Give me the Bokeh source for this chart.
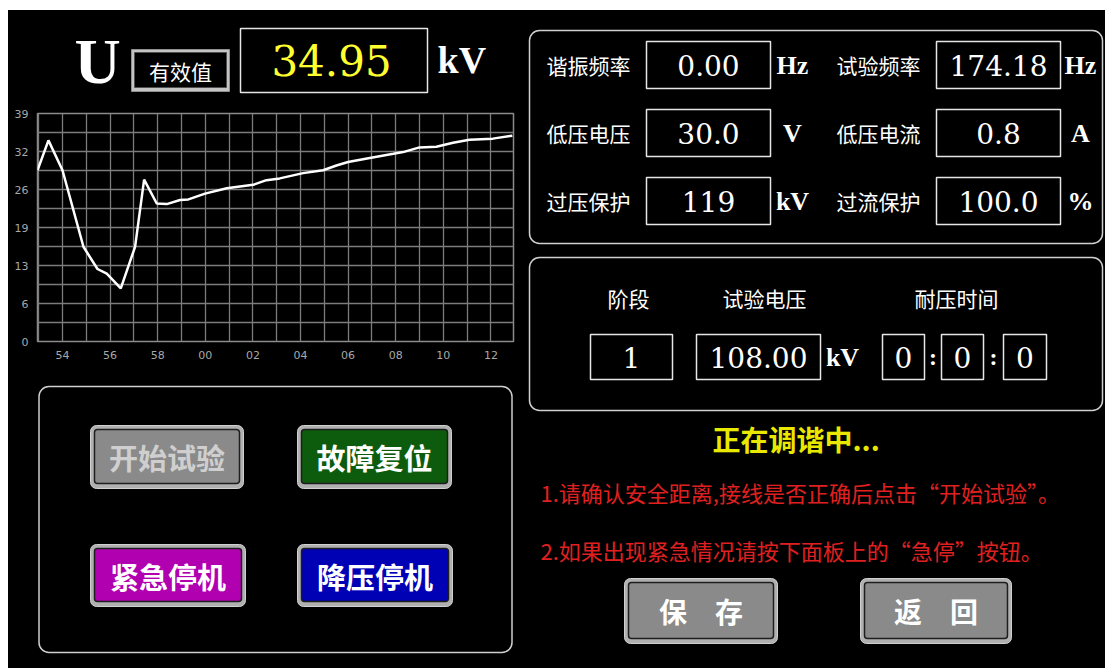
from bokeh.plotting import figure
from bokeh.models import Range1d, FixedTicker, Spacer
from bokeh.layouts import row, column
from bokeh.embed import file_html
from bokeh.resources import INLINE
from bokeh.core.properties import value

# ---------------- data ----------------
# trend of U (kV) over time, x in minutes (60 = hh:00)
minutes = [52.95, 53.41, 54.0, 54.88, 55.47, 55.86, 56.45, 57.05, 57.43, 57.96,
           58.38, 58.94, 59.29, 59.99, 60.9, 62.01, 62.57, 63.13, 64.11, 64.95,
           65.51, 66.0, 66.91, 67.9, 68.31, 69.0, 69.71, 70.41, 71.1, 72.08, 72.9]
voltage_kv = [29.3, 34.4, 29.3, 16.2, 12.4, 11.6, 9.1, 16.2, 27.7, 23.6,
              23.5, 24.2, 24.3, 25.3, 26.2, 26.8, 27.6, 27.9, 28.8, 29.3,
              30.1, 30.7, 31.4, 32.1, 32.4, 33.2, 33.3, 34.0, 34.5, 34.7, 35.2]
x_tick_minutes = [54, 56, 58, 60, 62, 64, 66, 68, 70, 72]
x_tick_labels = ["54", "56", "58", "00", "02", "04", "06", "08", "10", "12"]
y_ticks = [0, 6.5, 13, 19.5, 26, 32.5, 39]
y_tick_labels = ["0", "6", "13", "19", "26", "32", "39"]

quantity = "U"
mode_label = "有效值"
reading = "34.95"
reading_unit = "kV"

param_labels = ["谐振频率", "试验频率", "低压电压", "低压电流", "过压保护", "过流保护"]
param_values = ["0.00", "174.18", "30.0", "0.8", "119", "100.0"]
param_units = ["Hz", "Hz", "V", "A", "kV", "%"]

stage_headers = ["阶段", "试验电压", "耐压时间"]
stage_no = "1"
test_voltage = "108.00"
test_voltage_unit = "kV"
hold_time = ["0", "0", "0"]

status_text = "正在调谐中..."
notes = ["1.请确认安全距离,接线是否正确后点击“开始试验”。",
         "2.如果出现紧急情况请按下面板上的“急停”按钮。"]
left_buttons = ["开始试验", "故障复位", "紧急停机", "降压停机"]
bottom_buttons = ["保　存", "返　回"]

CJK = "Noto Sans CJK SC"
NUM = "DejaVu Serif"
UNIT = "Liberation Serif"

# left column: image x 8..523, frame of all left figures 37..513
LB, RB = 29, 10


def px_fig(x0, x1, y0, y1, width, height, left=0, right=0):
    p = figure(width=width, height=height, x_range=Range1d(x0, x1), y_range=Range1d(y1, y0),
               output_backend="svg", toolbar_location=None, min_border=0,
               min_border_left=left, min_border_right=right,
               x_axis_type=None, y_axis_type=None,
               background_fill_color="black", border_fill_color="black",
               outline_line_color=None)
    p.grid.visible = False
    return p


def label(p, x, y, txt, size, color="white", font=CJK, style="normal",
          align="center", baseline="middle"):
    p.text(x=[x], y=[y], text=[txt], text_font=value(font), text_font_size=size,
           text_color=color, text_font_style=style, text_align=align,
           text_baseline=baseline)


def box(p, x0, y0, x1, y1, line="#e6e6e6", lw=1.5, r=0, fill=None):
    p.quad(left=[x0], right=[x1], top=[y0], bottom=[y1], fill_color=fill,
           fill_alpha=1.0 if fill else 0.0, line_color=line, line_width=lw,
           border_radius=r)


def button(p, x0, y0, x1, y1, fill, txt, tcolor="white", size="28px"):
    p.quad(left=[x0], right=[x1], top=[y0], bottom=[y1], fill_color="#b0b0b0",
           line_color="#d0d0d0", line_width=1, border_radius=6)
    p.quad(left=[x0 + 4], right=[x1 - 4], top=[y0 + 4], bottom=[y1 - 5],
           fill_color=fill, line_color="#1e1e1e", line_width=1.5, border_radius=3)
    label(p, (x0 + x1) / 2, (y0 + y1) / 2, txt, size, tcolor, style="bold")


# ---------------- header (left top), image y 10..105 ----------------
header = px_fig(37, 513, 10, 105, 515, 95, LB, RB)
label(header, 97, 61, quantity, "64px", "white", UNIT, "bold")
header.quad(left=[131], right=[229], top=[49], bottom=[91], fill_color="#c4c4c4",
            line_color="#909090", line_width=1)
header.quad(left=[134], right=[226], top=[52], bottom=[87], fill_color="black",
            line_color="#505050", line_width=1)
label(header, 180, 70, mode_label, "21px")
box(header, 240, 28, 427, 92, line="#e6e6e6", lw=1.5)
label(header, 331, 60, reading, "42px", "#ffff30", NUM)
label(header, 437, 59, reading_unit, "38px", "white", UNIT, "bold", align="left")

# ---------------- trend chart, image y 105..375 ----------------
chart = figure(width=515, height=270, x_range=Range1d(52.95, 72.95), y_range=Range1d(0, 39),
               output_backend="svg", toolbar_location=None,
               min_border_left=LB, min_border_right=RB, min_border_top=8,
               min_border_bottom=34, background_fill_color="black",
               border_fill_color="black", outline_line_color="#8c8c8c",
               outline_line_width=1.5)
x_minor = [t - 1 for t in x_tick_minutes] + [x_tick_minutes[-1] + 1]
y_minor = [(a + b) / 2 for a, b in zip(y_ticks[:-1], y_ticks[1:])]
xt = FixedTicker(ticks=x_tick_minutes, minor_ticks=x_minor)
yt = FixedTicker(ticks=y_ticks, minor_ticks=y_minor)
chart.xaxis.ticker = xt
chart.yaxis.ticker = yt
chart.xgrid.ticker = xt
chart.ygrid.ticker = yt
chart.xaxis.major_label_overrides = dict(zip(x_tick_minutes, x_tick_labels))
chart.yaxis.major_label_overrides = dict(zip(y_ticks, y_tick_labels))
for ax in (chart.xaxis, chart.yaxis):
    ax.axis_line_color = None
    ax.major_tick_line_color = None
    ax.minor_tick_line_color = None
    ax.major_label_text_color = "#a8a8a8"
    ax.major_label_text_font = "DejaVu Sans"
    ax.major_label_text_font_size = "11px"
    ax.major_label_standoff = 3
for g in (chart.xgrid, chart.ygrid):
    g.grid_line_color = "#7c7c7c"
    g.grid_line_width = 1.3
    g.minor_grid_line_color = "#7c7c7c"
    g.minor_grid_line_width = 1.3
chart.line(minutes, voltage_kv, line_color="white", line_width=2.5)

# ---------------- button panel (left bottom), image y 375..668 ----------------
btns = px_fig(37, 513, 375, 668, 515, 293, LB, RB)
box(btns, 38.5, 386, 511.5, 652, line="#cfcfcf", lw=1.5, r=10)
btn_pos = [(90, 425, 243, 488), (297, 425, 451, 488), (90, 544, 245, 606), (297, 544, 452, 606)]
btn_fill = ["#8a8a8a", "#0d5c0d", "#b000b0", "#0000b4"]
btn_tcol = ["#cfcfcf", "white", "white", "white"]
for (x0, y0, x1, y1), f, t, tc in zip(btn_pos, btn_fill, left_buttons, btn_tcol):
    button(btns, x0, y0, x1, y1, f, t, tc, "29px")

# ---------------- right side, image x 523..1105, y 10..668 ----------------
right = px_fig(523, 1105, 10, 668, 582, 658)
box(right, 529, 30, 1102, 243, line="#d0d0d0", lw=1.5, r=10)
box(right, 529, 257, 1102, 410, line="#d0d0d0", lw=1.5, r=10)

row_y = [(41, 88), (109, 156), (177, 224)]
cols = [dict(lab=588, bx=(646, 770), unit=792), dict(lab=878, bx=(936, 1060), unit=1080)]
for i, (lab, val, unit) in enumerate(zip(param_labels, param_values, param_units)):
    r, c = divmod(i, 2)
    y0, y1 = row_y[r]
    cy = (y0 + y1) / 2
    col = cols[c]
    label(right, col["lab"], cy, lab, "21px")
    box(right, col["bx"][0], y0, col["bx"][1], y1)
    label(right, (col["bx"][0] + col["bx"][1]) / 2, cy, val, "28px", "white", NUM)
    label(right, col["unit"], cy, unit, "26px", "white", UNIT, "bold")

for x, h in zip([628, 764, 956], stage_headers):
    label(right, x, 297, h, "21px")
cy = 356.5
box(right, 590, 334, 672, 379)
label(right, 631, cy, stage_no, "28px", "white", NUM)
box(right, 696, 334, 820, 379)
label(right, 758, cy, test_voltage, "28px", "white", NUM)
label(right, 842, cy, test_voltage_unit, "26px", "white", UNIT, "bold")
time_boxes = [(882, 924), (941, 983), (1003, 1046)]
for (x0, x1), t in zip(time_boxes, hold_time):
    box(right, x0, 334, x1, 379)
    label(right, (x0 + x1) / 2, cy, t, "28px", "white", NUM)
for x in [932.5, 993]:
    label(right, x, cy, ":", "24px", "white", UNIT, "bold")

label(right, 712, 438, status_text, "28px", "#e8e800", style="bold", align="left")
label(right, 540, 491, notes[0], "22px", "#e02020", align="left")
label(right, 540, 549, notes[1], "22px", "#e02020", align="left")
button(right, 624, 578, 777, 643, "#8a8a8a", bottom_buttons[0], "white", "28px")
button(right, 860, 578, 1011, 643, "#8a8a8a", bottom_buttons[1], "white", "28px")

panel = row(column(header, chart, btns, spacing=0), right, spacing=0,
            styles={"background-color": "black"})
layout = column(Spacer(width=1105, height=10), row(Spacer(width=8, height=658), panel, spacing=0),
                spacing=0)
open("out.html", "w").write(file_html(layout, INLINE))
